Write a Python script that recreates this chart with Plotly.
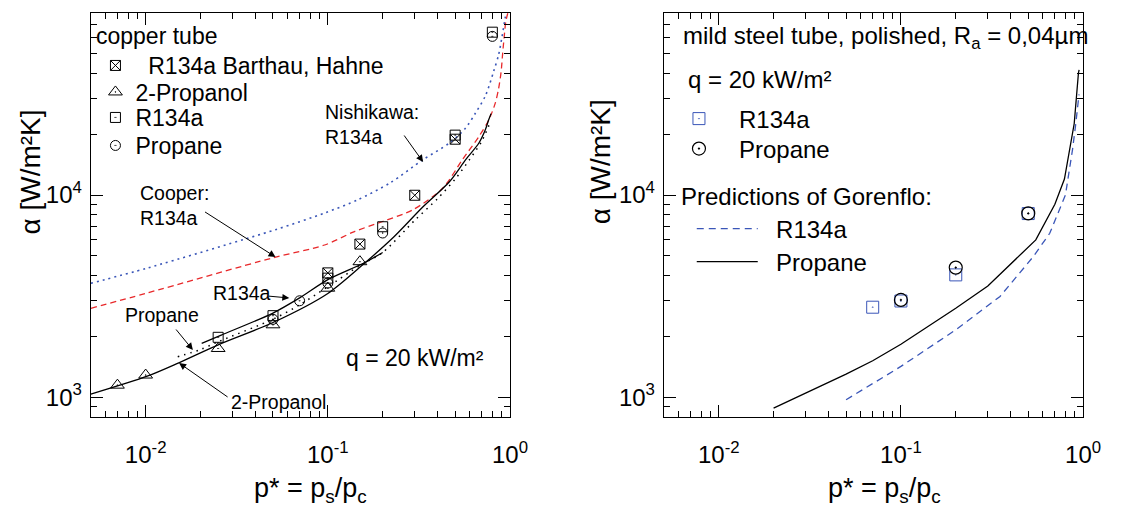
import numpy as np
import plotly.graph_objects as go

W, H = 1125, 508

# ---------------- left panel: copper tube (measured) ----------------
bh_p = [0.1, 0.15, 0.3, 0.5]                    # R134a Barthau, Hahne
bh_a = [4120, 5720, 9980, 18900]
prop2_p = [0.007, 0.01, 0.025, 0.05, 0.1, 0.15]  # 2-Propanol
prop2_a = [1146, 1286, 1741, 2280, 3460, 4680]
r134_p = [0.025, 0.05, 0.1, 0.2, 0.5, 0.8]       # R134a
r134_a = [1977, 2530, 3880, 6970, 19800, 64000]
pro_p = [0.05, 0.07, 0.1, 0.2, 0.8]              # Propane
pro_a = [2426, 2998, 3670, 6490, 61000]

# ---------------- left panel: correlations ----------------
coop_p = [0.005, 0.01, 0.05, 0.096, 0.14, 0.2, 0.294, 0.428, 0.548, 0.675, 0.764,
          0.83, 0.866, 0.894, 0.91, 0.928, 0.948, 0.972]
coop_a = [2750, 3260, 4890, 5660, 6600, 7400, 8470, 10840, 14970, 19500, 23500,
          28500, 33700, 40900, 49500, 60000, 72100, 79400]
nish_p = [0.005, 0.0102, 0.0516, 0.096, 0.146, 0.22, 0.333, 0.465, 0.571, 0.647,
          0.733, 0.813, 0.866, 0.902, 0.94, 0.96]
nish_a = [3660, 4350, 6740, 8150, 9480, 11500, 14970, 18100, 21500, 25500,
          31000, 40900, 49500, 60000, 75000, 85000]
fit_prop2_p = [0.005, 0.0102, 0.0152, 0.025, 0.05, 0.1, 0.152, 0.23, 0.333, 0.465,
               0.571, 0.675, 0.733, 0.764, 0.787]
fit_prop2_a = [1035, 1270, 1479, 1815, 2340, 3260, 4440, 6200, 8750, 11640,
               14970, 18100, 21100, 23600, 25300]
fit_r134_p = [0.0203, 0.026, 0.05, 0.07, 0.1, 0.158, 0.2]
fit_r134_a = [1845, 2028, 2606, 3097, 3813, 4610, 5200]
fit_pro_p = [0.015, 0.02, 0.025, 0.05, 0.07, 0.1, 0.15, 0.2, 0.3, 0.4, 0.5, 0.6,
             0.7, 0.78]
fit_pro_a = [1585, 1720, 1880, 2430, 2860, 3520, 4480, 5200, 7500, 9600, 12000,
             15000, 18500, 23000]

# ---------------- right panel: mild steel tube ----------------
st_r134_p = [0.07, 0.1, 0.2, 0.5]
st_r134_a = [2786, 2990, 4027, 8100]
st_pro_p = [0.1, 0.2, 0.5]
st_pro_a = [3027, 4375, 8117]
gor_pro_p = [0.02, 0.05, 0.07, 0.1, 0.2, 0.3, 0.55, 0.7, 0.79, 0.894, 0.943, 0.951]
gor_pro_a = [883, 1300, 1514, 1828, 2754, 3550, 6000, 9000, 12000, 22600, 40200, 41700]
gor_r134_p = [0.05, 0.1, 0.2, 0.35, 0.532, 0.656, 0.8, 0.875, 0.912, 0.944, 0.95]
gor_r134_a = [970, 1419, 2153, 3150, 4950, 6470, 10000, 16800, 22600, 30000, 31500]

x_ticks = [0.01, 0.1, 1]
x_ticktext = ["10<sup>-2</sup>", "10<sup>-1</sup>", "10<sup>0</sup>"]
y_ticks = [1000, 10000]
y_ticktext = ["10<sup>3</sup>", "10<sup>4</sup>"]

FONT = "Liberation Sans, Arial, sans-serif"
BLUE = "#3a56b8"
RED = "#e8282a"
NB = "\u00a0"


def px(x):
    return x / W


def py(y):
    return 1 - y / H


fig = go.Figure()

# left panel traces
fig.add_trace(go.Scatter(x=nish_p, y=nish_a, mode="lines", showlegend=False,
                         line=dict(color=BLUE, width=1.6, dash="2px,4px", shape="spline", smoothing=0.8),
                         xaxis="x", yaxis="y"))
fig.add_trace(go.Scatter(x=coop_p, y=coop_a, mode="lines", showlegend=False,
                         line=dict(color=RED, width=1.3, dash="6px,4px", shape="spline", smoothing=0.8),
                         xaxis="x", yaxis="y"))
fig.add_trace(go.Scatter(x=fit_prop2_p, y=fit_prop2_a, mode="lines", showlegend=False,
                         line=dict(color="black", width=1.3, shape="spline", smoothing=0.8),
                         xaxis="x", yaxis="y"))
fig.add_trace(go.Scatter(x=fit_r134_p, y=fit_r134_a, mode="lines", showlegend=False,
                         line=dict(color="black", width=1.3, shape="spline", smoothing=0.8),
                         xaxis="x", yaxis="y"))
fig.add_trace(go.Scatter(x=fit_pro_p, y=fit_pro_a, mode="lines", showlegend=False,
                         line=dict(color="black", width=1.5, dash="1.5px,5px", shape="spline", smoothing=0.8),
                         xaxis="x", yaxis="y"))

mk_line = dict(color="black", width=1)
fig.add_trace(go.Scatter(x=bh_p, y=bh_a, mode="markers", name=NB * 2 + "R134a Barthau, Hahne",
                         marker=dict(symbol="square-x-open", size=10, color="black", line=mk_line),
                         xaxis="x", yaxis="y", legend="legend"))
fig.add_trace(go.Scatter(x=prop2_p, y=prop2_a, mode="markers", name="2-Propanol",
                         marker=dict(symbol="triangle-up-open-dot", size=12, color="black", line=mk_line),
                         xaxis="x", yaxis="y", legend="legend4"))
fig.add_trace(go.Scatter(x=r134_p, y=r134_a, mode="markers", name="R134a",
                         marker=dict(symbol="square-open-dot", size=10, color="black", line=mk_line),
                         xaxis="x", yaxis="y", legend="legend5"))
fig.add_trace(go.Scatter(x=pro_p, y=pro_a, mode="markers", name="Propane",
                         marker=dict(symbol="circle-open-dot", size=10, color="black", line=mk_line),
                         xaxis="x", yaxis="y", legend="legend6"))

# right panel traces
fig.add_trace(go.Scatter(x=st_r134_p, y=st_r134_a, mode="markers", name=NB * 3 + "R134a",
                         marker=dict(symbol="square-open-dot", size=12, color=BLUE, line=dict(color=BLUE, width=1)),
                         xaxis="x2", yaxis="y2", legend="legend2"))
fig.add_trace(go.Scatter(x=st_pro_p, y=st_pro_a, mode="markers", name=NB * 3 + "Propane",
                         marker=dict(symbol="circle-open-dot", size=13, color="black", line=dict(color="black", width=1.2)),
                         xaxis="x2", yaxis="y2", legend="legend7"))
fig.add_trace(go.Scatter(x=gor_r134_p, y=gor_r134_a, mode="lines", name=NB * 2 + "R134a",
                         line=dict(color=BLUE, width=1.3, dash="7px,5px"),
                         xaxis="x2", yaxis="y2", legend="legend3"))
fig.add_trace(go.Scatter(x=gor_pro_p, y=gor_pro_a, mode="lines", name=NB * 2 + "Propane",
                         line=dict(color="black", width=1.3),
                         xaxis="x2", yaxis="y2", legend="legend8"))

minor_x = [d * 10.0 ** k for k in (-3, -2, -1) for d in range(2, 10)]
minor_y = [d * 10.0 ** k for k in (2, 3, 4) for d in range(2, 10)]

axis_common = dict(type="log", showline=True, linecolor="black", linewidth=1.3, mirror="allticks",
                   ticks="inside", ticklen=12, tickwidth=1, tickcolor="black", showgrid=False,
                   zeroline=False, tickfont=dict(size=24, color="black", family=FONT))
xa = dict(axis_common, range=[np.log10(0.005), 0], tickmode="array", tickvals=x_ticks,
          ticktext=x_ticktext, ticklabelstandoff=16,
          minor=dict(ticks="inside", ticklen=6, tickcolor="black", tickmode="array", tickvals=minor_x, showgrid=False))
ya = dict(axis_common, range=[np.log10(800), np.log10(80000)], tickmode="array", tickvals=y_ticks,
          ticktext=y_ticktext, ticklabelstandoff=3,
          minor=dict(ticks="inside", ticklen=6, tickcolor="black", tickmode="array", tickvals=minor_y, showgrid=False))


def leg(x, y, size, **kw):
    return dict(x=px(x), y=py(y), xanchor="left", yanchor="middle", bgcolor="rgba(0,0,0,0)",
                font=dict(size=size, family=FONT, color="black"), tracegroupgap=0, **kw)


yd = [py(416.7), py(12.6)]
fig.update_layout(
    width=W, height=H, margin=dict(l=0, r=0, t=0, b=0),
    paper_bgcolor="white", plot_bgcolor="white",
    font=dict(family=FONT, color="black"),
    xaxis=dict(xa, domain=[px(92.3), px(518.3)], anchor="y"),
    yaxis=dict(ya, domain=yd, anchor="x"),
    xaxis2=dict(xa, domain=[px(674.7), px(1100.7)], anchor="y2"),
    yaxis2=dict(ya, domain=yd, anchor="x2"),
    legend=leg(97, 65.5, 23),
    legend4=leg(97, 92, 23),
    legend5=leg(97, 117.5, 23),
    legend6=leg(97, 145.5, 23),
    legend2=leg(690, 119, 24),
    legend7=leg(690, 149, 24),
    legend3=leg(703, 229, 24, itemwidth=61),
    legend8=leg(703, 262, 24, itemwidth=61),
)

ann = []


def text(t, x, y, size, xanchor="left", **kw):
    ann.append(dict(text=t, x=px(x), y=py(y), xref="paper", yref="paper", xanchor=xanchor,
                    yanchor="middle", showarrow=False, font=dict(size=size, family=FONT, color="black"),
                    align="left", **kw))


def arrow(tail, tip):
    ann.append(dict(text="", x=px(tip[0]), y=py(tip[1]), xref="paper", yref="paper",
                    ax=tail[0] - tip[0], ay=tail[1] - tip[1], axref="pixel", ayref="pixel",
                    showarrow=True, arrowhead=2, arrowsize=1.4, arrowwidth=1, arrowcolor="black"))


text("copper tube", 96, 36, 23)
text("Nishikawa:<br>R134a", 328, 124, 19.5)
arrow((410, 134), (430, 162))
text("Cooper:<br>R134a", 140, 206, 19.5)
arrow((208, 211), (280, 257))
text("R134a", 214, 293, 19.5)
arrow((272, 296), (294, 298))
text("Propane", 125, 315, 19.5)
arrow((178, 328), (196, 350))
text("2-Propanol", 233, 402, 19.5)
arrow((232, 398), (182, 363))
text("q = 20 kW/m²", 350, 358, 23)

text("mild steel tube, polished, R<sub>a</sub> = 0,04µm", 692, 38, 24)
text("q = 20 kW/m²", 697, 80, 24)
text("Predictions of Gorenflo:", 690, 196, 24)

text("α [W/m²K]", 30, 172, 28, xanchor="center", textangle=-90)
text("α [W/m²K]", 610, 162, 28, xanchor="center", textangle=-90)
text("p* = p<sub>s</sub>/p<sub>c</sub>", 316, 490, 27, xanchor="center")
text("p* = p<sub>s</sub>/p<sub>c</sub>", 899, 490, 27, xanchor="center")

fig.update_layout(annotations=ann)
fig.write_html("out.html")
